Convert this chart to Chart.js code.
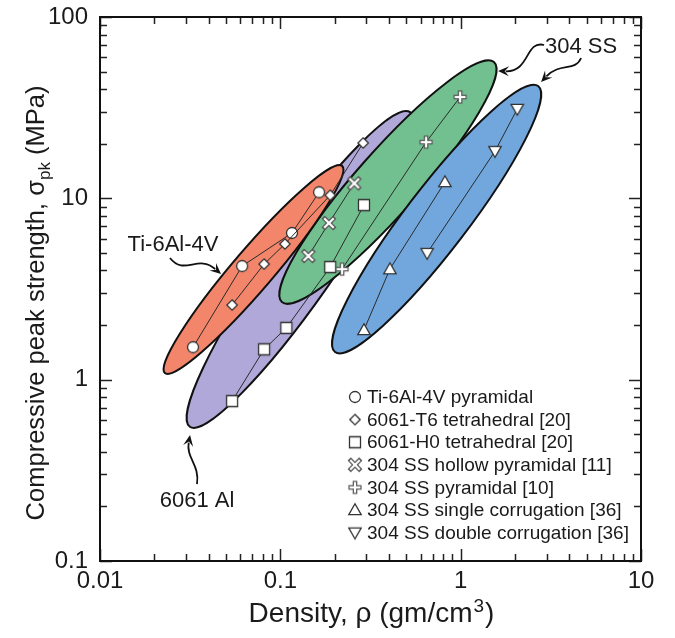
<!DOCTYPE html>
<html>
<head>
<meta charset="utf-8">
<script src="https://cdn.jsdelivr.net/npm/chart.js@4.4.1/dist/chart.umd.min.js"></script>
<style>
  html, body { margin: 0; padding: 0; background: #fff; }
  #wrap { width: 675px; height: 638px; }
</style>
</head>
<body>
<div id="wrap"><canvas id="c" width="675" height="638"></canvas></div>
<script>
// ---------- data ----------
const xTickDecades = [0.01, 0.1, 1, 10];
const yTickDecades = [0.1, 1, 10, 100];

const seriesNames = [
  'Ti-6Al-4V pyramidal',
  '6061-T6 tetrahedral [20]',
  '6061-H0 tetrahedral [20]',
  '304 SS hollow pyramidal [11]',
  '304 SS pyramidal [10]',
  '304 SS single corrugation [36]',
  '304 SS double corrugation [36]'
];

const tiPyrDensity = [0.0328, 0.0614, 0.116, 0.164];
const tiPyrStrength = [1.51, 4.23, 6.44, 10.8];

const t6TetDensity = [0.054, 0.0813, 0.106, 0.189, 0.288];
const t6TetStrength = [2.58, 4.34, 5.60, 10.4, 20.2];

const h0TetDensity = [0.054, 0.0813, 0.108, 0.189, 0.291];
const h0TetStrength = [0.762, 1.47, 1.93, 4.18, 9.18];

const ssHollowDensity = [0.143, 0.186, 0.257];
const ssHollowStrength = [4.81, 7.31, 12.1];

const ssPyrDensity = [0.220, 0.643, 0.993];
const ssPyrStrength = [4.07, 20.4, 36.2];

const ssSingleDensity = [0.291, 0.405, 0.818];
const ssSingleStrength = [1.88, 4.07, 12.3];

const ssDoubleDensity = [0.652, 1.55, 2.06];
const ssDoubleStrength = [4.99, 18.2, 31.1];

// material envelopes: ends of the long axis (density, strength) and half width in decades
const envelopeNames = ['6061 Al', '304 SS pyramidal', 'Ti-6Al-4V', '304 SS corrugated'];
const envelopeFrom = [[0.0315, 0.55], [0.102, 2.68], [0.0229, 1.087], [0.201, 1.42]];
const envelopeTo = [[0.524, 29.9], [1.53, 56.4], [0.220, 15.1], [2.69, 41.6]];
const envelopeHalfWidth = [0.18, 0.172, 0.112, 0.172];
const envelopeColors = ['#afa8d8', '#72c08f', '#f2856a', '#72a7de'];

// callout labels (text, anchor in data units) and their arrows (bezier in data units)
const calloutText = ['Ti-6Al-4V', '6061 Al', '304 SS'];
const calloutAt = [[0.0254, 5.53], [0.0345, 0.214], [4.654, 68.3]];
const arrowPaths = [
  [[0.02444, 4.686], [0.02923, 3.727], [0.03496, 4.930], [0.04690, 3.824]],
  [[0.0345, 0.2655], [0.03587, 0.3380], [0.02999, 0.3694], [0.03157, 0.4949]],
  [[2.901, 70.08], [2.276, 74.66], [2.426, 49.72], [1.612, 50.36]],
  [[4.654, 59.41], [4.310, 49.72], [3.558, 56.46], [2.792, 43.80]]
];

// ---------- markers ----------
const FONT = "'Liberation Sans', Arial, Helvetica, sans-serif";
function makeMarker(kind) {
  const S = 18, c = document.createElement('canvas');
  c.width = S; c.height = S;
  const g = c.getContext('2d');
  g.translate(S / 2, S / 2);
  g.lineWidth = 1.3; g.strokeStyle = '#333'; g.fillStyle = '#fff';
  const poly = pts => { g.beginPath(); pts.forEach((p, i) => i ? g.lineTo(p[0], p[1]) : g.moveTo(p[0], p[1])); g.closePath(); g.fill(); g.stroke(); };
  const cross = (segs) => {
    g.lineCap = 'butt';
    g.strokeStyle = '#555'; g.lineWidth = 4.6;
    segs.forEach(s => { g.beginPath(); g.moveTo(s[0], s[1]); g.lineTo(s[2], s[3]); g.stroke(); });
    g.strokeStyle = '#fff'; g.lineWidth = 2.2;
    segs.forEach(s => { g.beginPath(); g.moveTo(s[0] * 0.82, s[1] * 0.82); g.lineTo(s[2] * 0.82, s[3] * 0.82); g.stroke(); });
  };
  switch (kind) {
    case 'circle': g.beginPath(); g.arc(0, 0, 5.5, 0, Math.PI * 2); g.fill(); g.stroke(); break;
    case 'diamond': poly([[0, -5.2], [5.2, 0], [0, 5.2], [-5.2, 0]]); break;
    case 'square': poly([[-5.5, -5.5], [5.5, -5.5], [5.5, 5.5], [-5.5, 5.5]]); break;
    case 'triUp': poly([[0, -6.2], [6.2, 4.6], [-6.2, 4.6]]); break;
    case 'triDown': poly([[0, 6.2], [6.2, -4.6], [-6.2, -4.6]]); break;
    case 'x': cross([[-5.8, -5.8, 5.8, 5.8], [-5.8, 5.8, 5.8, -5.8]]); break;
    case 'plus': cross([[-6.6, 0, 6.6, 0], [0, -6.6, 0, 6.6]]); break;
  }
  return c;
}
const markerKinds = ['circle', 'diamond', 'square', 'x', 'plus', 'triUp', 'triDown'];
const markers = markerKinds.map(makeMarker);

const xsAll = [tiPyrDensity, t6TetDensity, h0TetDensity, ssHollowDensity, ssPyrDensity, ssSingleDensity, ssDoubleDensity];
const ysAll = [tiPyrStrength, t6TetStrength, h0TetStrength, ssHollowStrength, ssPyrStrength, ssSingleStrength, ssDoubleStrength];

const datasets = seriesNames.map((name, k) => ({
  label: name,
  data: xsAll[k].map((x, i) => ({ x: x, y: ysAll[k][i] })),
  showLine: true,
  borderColor: '#2a2a2a',
  borderWidth: 1,
  pointStyle: markers[k],
  pointRadius: 6,
  pointHoverRadius: 6,
  order: 7 - k
}));

// ---------- plugins ----------
const isDecade = v => Math.abs(Math.log10(v) - Math.round(Math.log10(v))) < 1e-9;

const envelopePlugin = {
  id: 'envelopes',
  beforeDatasetsDraw(chart) {
    const ctx = chart.ctx, xs = chart.scales.x, ys = chart.scales.y;
    const pxDec = ((xs.getPixelForValue(10) - xs.getPixelForValue(1)) + (ys.getPixelForValue(1) - ys.getPixelForValue(10))) / 2;
    ctx.save();
    envelopeNames.forEach((n, i) => {
      const x1 = xs.getPixelForValue(envelopeFrom[i][0]), y1 = ys.getPixelForValue(envelopeFrom[i][1]);
      const x2 = xs.getPixelForValue(envelopeTo[i][0]), y2 = ys.getPixelForValue(envelopeTo[i][1]);
      const cx = (x1 + x2) / 2, cy = (y1 + y2) / 2;
      const a = Math.hypot(x2 - x1, y2 - y1) / 2;
      const b = envelopeHalfWidth[i] * pxDec;
      const ang = Math.atan2(y2 - y1, x2 - x1);
      ctx.beginPath();
      ctx.ellipse(cx, cy, a, b, ang, 0, Math.PI * 2);
      ctx.fillStyle = envelopeColors[i];
      ctx.fill();
      ctx.lineWidth = 2;
      ctx.strokeStyle = '#111';
      ctx.stroke();
    });
    ctx.restore();
  }
};

const framePlugin = {
  id: 'frame',
  beforeDraw(chart) {
    const ctx = chart.ctx;
    ctx.save(); ctx.fillStyle = '#fff'; ctx.fillRect(0, 0, chart.width, chart.height); ctx.restore();
  },
  afterDatasetsDraw(chart) {
    const ctx = chart.ctx, a = chart.chartArea, xs = chart.scales.x, ys = chart.scales.y;
    ctx.save();
    ctx.strokeStyle = '#222';
    ctx.lineWidth = 1.5;
    // ticks
    const major = 12, minor = 7;
    const xTicks = [], yTicks = [];
    for (let d = 0; d < xTickDecades.length; d++) {
      const base = xTickDecades[d];
      xTicks.push([base, true]);
      if (d < xTickDecades.length - 1) for (let k = 2; k <= 9; k++) xTicks.push([base * k, false]);
    }
    for (let d = 0; d < yTickDecades.length; d++) {
      const base = yTickDecades[d];
      yTicks.push([base, true]);
      if (d < yTickDecades.length - 1) for (let k = 2; k <= 9; k++) yTicks.push([base * k, false]);
    }
    ctx.beginPath();
    xTicks.forEach(([v, m]) => {
      const p = Math.round(xs.getPixelForValue(v)) + 0.5, L = m ? major : minor;
      ctx.moveTo(p, a.bottom); ctx.lineTo(p, a.bottom - L);
      ctx.moveTo(p, a.top); ctx.lineTo(p, a.top + L);
    });
    yTicks.forEach(([v, m]) => {
      const p = Math.round(ys.getPixelForValue(v)) + 0.5, L = m ? major : minor;
      ctx.moveTo(a.left, p); ctx.lineTo(a.left + L, p);
      ctx.moveTo(a.right, p); ctx.lineTo(a.right - L, p);
    });
    ctx.stroke();
    ctx.lineWidth = 2;
    ctx.strokeStyle = '#111';
    ctx.strokeRect(a.left, a.top, a.right - a.left, a.bottom - a.top);

    // callouts
    ctx.fillStyle = '#1a1a1a';
    ctx.font = '22px ' + FONT;
    ctx.textAlign = 'center';
    ctx.textBaseline = 'middle';
    calloutText.forEach((t, i) => {
      ctx.fillText(t, xs.getPixelForValue(calloutAt[i][0]), ys.getPixelForValue(calloutAt[i][1]));
    });
    ctx.strokeStyle = '#111';
    ctx.lineWidth = 1.8;
    arrowPaths.forEach(path => {
      const P = path.map(p => [xs.getPixelForValue(p[0]), ys.getPixelForValue(p[1])]);
      const ang = Math.atan2(P[3][1] - P[2][1], P[3][0] - P[2][0]);
      const hl = 11, hw = 5;
      const bx = P[3][0] - Math.cos(ang) * hl * 0.7, by = P[3][1] - Math.sin(ang) * hl * 0.7;
      ctx.beginPath();
      ctx.moveTo(P[0][0], P[0][1]);
      ctx.bezierCurveTo(P[1][0], P[1][1], P[2][0], P[2][1], bx, by);
      ctx.stroke();
      ctx.beginPath();
      ctx.moveTo(P[3][0], P[3][1]);
      ctx.lineTo(P[3][0] - Math.cos(ang) * hl - Math.sin(ang) * hw, P[3][1] - Math.sin(ang) * hl + Math.cos(ang) * hw);
      ctx.lineTo(P[3][0] - Math.cos(ang) * hl * 0.6, P[3][1] - Math.sin(ang) * hl * 0.6);
      ctx.lineTo(P[3][0] - Math.cos(ang) * hl + Math.sin(ang) * hw, P[3][1] - Math.sin(ang) * hl - Math.cos(ang) * hw);
      ctx.closePath();
      ctx.fillStyle = '#111';
      ctx.fill();
    });

    // legend
    ctx.textAlign = 'left';
    ctx.textBaseline = 'middle';
    ctx.font = '19px ' + FONT;
    ctx.fillStyle = '#1a1a1a';
    const lx = a.left + 255, ly0 = a.top + 380, dy = 22.6;
    seriesNames.forEach((n, i) => {
      const y = ly0 + i * dy;
      const m = markers[i];
      ctx.drawImage(m, lx - m.width / 2, y - m.height / 2);
      ctx.fillText(n, lx + 12, y + 1);
    });

    // axis titles
    ctx.textAlign = 'left';
    ctx.textBaseline = 'alphabetic';
    const t1 = 'Density, ρ (gm/cm', t2 = '3', t3 = ')';
    ctx.font = '28px ' + FONT; const w1 = ctx.measureText(t1).width, w3 = ctx.measureText(t3).width;
    ctx.font = '19px ' + FONT; const w2 = ctx.measureText(t2).width;
    const tx0 = (a.left + a.right) / 2 - (w1 + w2 + w3) / 2, tby = 622;
    ctx.font = '28px ' + FONT; ctx.fillText(t1, tx0, tby);
    ctx.font = '19px ' + FONT; ctx.fillText(t2, tx0 + w1 + 1, tby - 10);
    ctx.font = '28px ' + FONT; ctx.fillText(t3, tx0 + w1 + w2 + 2, tby);

    ctx.save();
    ctx.translate(44, (a.top + a.bottom) / 2 + 14);
    ctx.rotate(-Math.PI / 2);
    const y1 = 'Compressive peak strength, σ', y2 = 'pk', y3 = ' (MPa)';
    ctx.font = '25.5px ' + FONT; const u1 = ctx.measureText(y1).width, u3 = ctx.measureText(y3).width;
    ctx.font = '17px ' + FONT; const u2 = ctx.measureText(y2).width;
    const s0 = -(u1 + u2 + u3) / 2;
    ctx.font = '25.5px ' + FONT; ctx.fillText(y1, s0, 0);
    ctx.font = '17px ' + FONT; ctx.fillText(y2, s0 + u1, 6);
    ctx.font = '25.5px ' + FONT; ctx.fillText(y3, s0 + u1 + u2, 0);
    ctx.restore();
    ctx.restore();
  }
};

// ---------- chart ----------
new Chart(document.getElementById('c'), {
  type: 'scatter',
  data: { datasets },
  options: {
    responsive: false,
    animation: false,
    events: [],
    layout: { padding: { left: 0, right: 34, top: 17, bottom: 0 } },
    plugins: { legend: { display: false }, tooltip: { enabled: false } },
    scales: {
      x: {
        type: 'logarithmic', min: xTickDecades[0], max: xTickDecades[xTickDecades.length - 1],
        grid: { display: false, drawTicks: false }, border: { display: false },
        afterFit: s => { s.height = 77; s.paddingLeft = 0; s.paddingRight = 0; },
        ticks: {
          autoSkip: false, maxRotation: 0, minRotation: 0, padding: 6, color: '#1a1a1a',
          font: { family: FONT, size: 24 },
          callback: v => isDecade(v) ? String(+v.toPrecision(6)) : ''
        }
      },
      y: {
        type: 'logarithmic', min: yTickDecades[0], max: yTickDecades[yTickDecades.length - 1],
        grid: { display: false, drawTicks: false }, border: { display: false },
        afterFit: s => { s.width = 100; s.paddingTop = 0; s.paddingBottom = 0; },
        ticks: {
          autoSkip: false, padding: 12, color: '#1a1a1a',
          font: { family: FONT, size: 24 },
          callback: v => isDecade(v) ? String(+v.toPrecision(6)) : ''
        }
      }
    }
  },
  plugins: [framePlugin, envelopePlugin]
});
</script>
</body>
</html>
